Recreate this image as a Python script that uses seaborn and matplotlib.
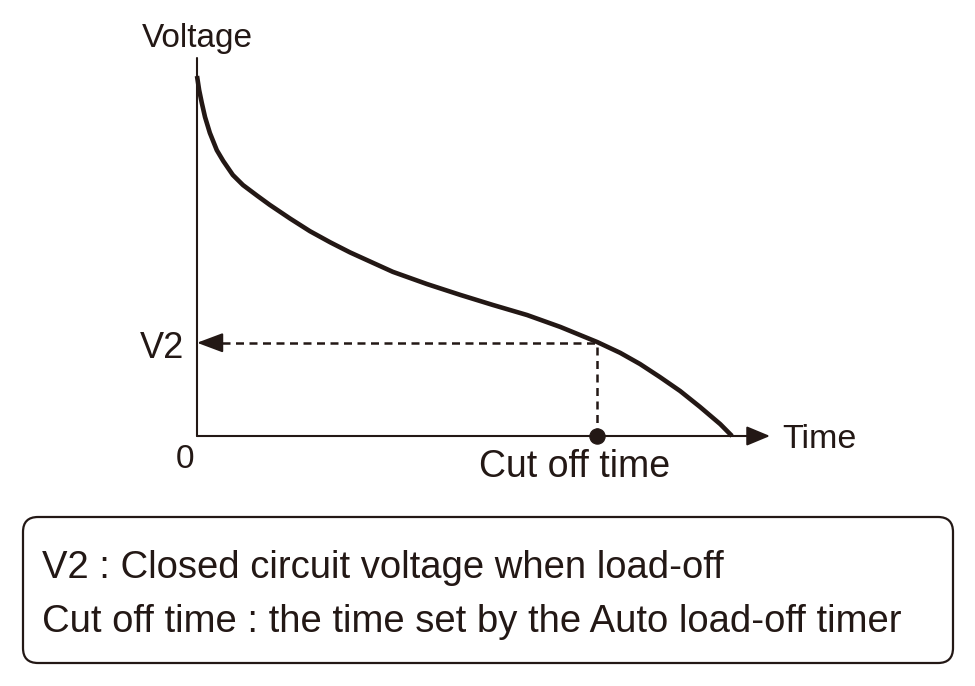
import numpy as np
import pandas as pd
import matplotlib.pyplot as plt
import seaborn as sns
from matplotlib.patches import FancyBboxPatch

# Discharge curve (arbitrary units: time 0-100, voltage 0-100)
time = [0, 0.4, 0.9, 1.5, 2.4, 3.7, 4.9, 6.7, 8.6, 11.2, 13.6, 17.4, 21.1, 24.9,
        28.6, 32.3, 36.6, 43.0, 49.2, 55.3, 61.7, 67.9, 74.8, 79.1, 82.8, 86.5,
        90.3, 94.0, 97.8, 100]
voltage = [100, 96.1, 92.5, 88.6, 84.2, 79.4, 76.4, 72.5, 69.7, 66.8, 64.2, 60.4, 56.9, 53.8,
           51.0, 48.5, 45.6, 42.2, 39.2, 36.4, 33.6, 30.3, 26.1, 23.1, 20.0, 16.4,
           12.5, 8.1, 3.3, 0]
cutoff_time = 74.8
v2 = 25.9

notes = ['V2 : Closed circuit voltage when load-off',
         'Cut off time : the time set by the Auto load-off timer']

df = pd.DataFrame({'Time': time, 'Voltage': voltage})

sns.set_style('white')
plt.rcParams['font.family'] = ['Liberation Sans', 'DejaVu Sans']
ink = '#231815'

fig = plt.figure(figsize=(9.75, 6.86), dpi=100)

""" Main diagram """
ax = fig.add_axes([197 / 975, 250 / 686, 573 / 975, 378 / 686])
ax.set_xlim(0, 107.1)
ax.set_ylim(0, 105.0)
ax.axis('off')

# axes: plain vertical line, horizontal arrow
ax.axvline(0, color=ink, lw=1.5, clip_on=False)
ax.annotate('', xy=(1, 0), xycoords=('axes fraction', 'data'),
            xytext=(0, 0), textcoords=('axes fraction', 'data'),
            arrowprops=dict(arrowstyle='-|>,head_length=0.72,head_width=0.3',
                            mutation_scale=20, color=ink, lw=1.5,
                            shrinkA=0, shrinkB=0))

# voltage curve
sns.lineplot(data=df, x='Time', y='Voltage', ax=ax, color=ink, lw=3.3,
             errorbar=None, sort=False, solid_capstyle='butt',
             solid_joinstyle='round', clip_on=False)

# dashed guides to V2 and cut-off time
dash = (0, (3.2, 2.2))
ax.plot([cutoff_time, cutoff_time], [0, v2], color=ink, lw=1.8, linestyle=dash)
ax.plot([4.6, cutoff_time], [v2, v2], color=ink, lw=1.8, linestyle=dash)
ax.annotate('', xy=(0, v2), xytext=(4.6, v2),
            arrowprops=dict(arrowstyle='-|>,head_length=0.8,head_width=0.3',
                            mutation_scale=20, color=ink, lw=1.5,
                            shrinkA=0, shrinkB=0))

sns.scatterplot(x=[cutoff_time], y=[0], ax=ax, s=120, color=ink,
                edgecolor=ink, zorder=5, clip_on=False)
ax.set_xlabel('')
ax.set_ylabel('')

""" Labels and note box (pixel overlay) """
ov = fig.add_axes([0, 0, 1, 1])
ov.set_xlim(0, 975)
ov.set_ylim(686, 0)
ov.axis('off')
ov.patch.set_alpha(0)

ov.text(197, 47, 'Voltage', ha='center', va='baseline', fontsize=24, color=ink)
ov.text(184, 358, 'V2', ha='right', va='baseline', fontsize=26, color=ink)
ov.text(185, 468, '0', ha='center', va='baseline', fontsize=24, color=ink)
ov.text(782, 448, 'Time', ha='left', va='baseline', fontsize=24.5, color=ink)
ov.text(575, 477, 'Cut off time', ha='center', va='baseline', fontsize=27, color=ink)

box = FancyBboxPatch((23, 517), 930, 146, boxstyle='round,pad=0,rounding_size=15',
                     facecolor='white', edgecolor=ink, lw=1.6)
ov.add_patch(box)
for i, line in enumerate(notes):
    ov.text(42, 578 + i * 54, line, ha='left', va='baseline', fontsize=27.5, color=ink)

plt.savefig('out.png', dpi=100)
